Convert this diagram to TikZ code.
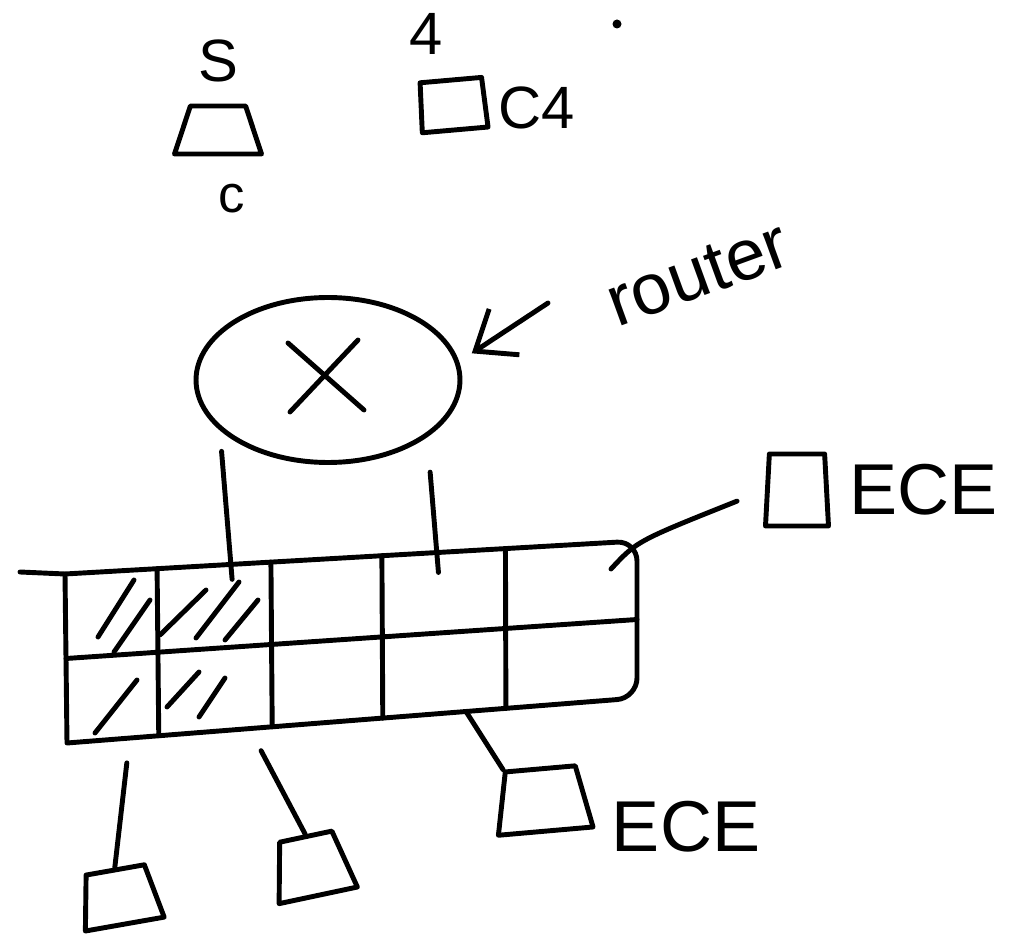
\documentclass[tikz,border=0pt]{standalone}
\usepackage{fontspec}
\setmainfont{Liberation Sans}
\usetikzlibrary{shapes,arrows.meta,positioning,calc}

\tikzset{
  pen/.style={line width=2.8pt,line cap=round,line join=round},
  dev/.style={pen,draw,trapezium,trapezium stretches=true,inner sep=1pt},
  lbl/.style={inner sep=0,font=\fontsize{34}{34}\selectfont},
  big/.style={inner sep=0,font=\fontsize{41}{41}\selectfont},
}

\begin{document}
\begin{tikzpicture}[x=0.02cm,y=-0.02cm]
\useasboundingbox (0,0) rectangle (1019,939);

% end devices
\node[dev,trapezium angle=74,minimum width=1.74cm,minimum height=0.96cm] (d0) at (218,130) {};
\node[dev,trapezium angle=88,minimum width=1.32cm,minimum height=1.0cm,rotate=5] (dc4) at (453,105) {};
\node[dev,trapezium angle=86,minimum width=1.26cm,minimum height=1.44cm] (dR) at (797,490) {};
\node[dev,trapezium angle=80,minimum width=1.6cm,minimum height=1.1cm,rotate=10] (d1) at (120,897) {};
\node[dev,trapezium angle=76,minimum width=1.6cm,minimum height=1.2cm,rotate=12] (d2) at (312,866) {};
\node[dev,trapezium angle=80,minimum width=1.9cm,minimum height=1.25cm,rotate=5] (d3) at (543,800) {};

\node[lbl,above=0.42cm of d0] (lS) {S};
\node[lbl,below=0.55cm of d0,xshift=0.28cm,font=\fontsize{30}{30}\selectfont] (lc) {c};
\node[lbl,above=0.45cm of dc4,xshift=-0.5cm] (l4) {4};
\node[lbl,right=0.22cm of dc4,yshift=-0.12cm] (lc4) {C4};
\node[big,right=0.4cm of dR] (lR) {ECE};
\node[big,right=0.5cm of d3,yshift=-0.62cm] (l3) {ECE};
\fill (617,24) circle (4.5);

% router
\node[pen,draw,ellipse,minimum width=5.28cm,minimum height=3.3cm] (rtr) at (328,380) {};
\draw[pen] ($(rtr.center)+(-40,-37)$) -- ($(rtr.center)+(36,30)$);
\draw[pen] ($(rtr.center)+(30,-40)$) -- ($(rtr.center)+(-38,32)$);
\node[big,rotate=20] (rlab) at (698,274) {router};
\coordinate (rtail) at (548,303);
\draw[pen,-{Straight Barb[length=0.7cm,width=1.1cm]},shorten >=0.3cm] (rtail) -- (rtr.8);

% ports
\coordinate (TL) at (65,574);
\coordinate (TR) at (637,541);
\coordinate (BR) at (637,698);
\coordinate (BL) at (67,743);
\draw[pen] (BL) -- (TL) [rounded corners=0.4cm] -- (TR) -- (BR) -- (BL);
\draw[pen] (TL) -- ++(-45,-2);
\draw[pen] ($(TL)!0.5!(BL)$) -- ($(TR)!0.5!(BR)$);
\foreach \f in {0.161,0.36,0.554,0.77}
  \draw[pen] ($(TL)!\f!(TR)$) -- ($(BL)!\f!(BR)$);
\foreach \a/\b/\c/\d in {134/580/98/637,150/600/114/652,206/590/160/635,239/582/196/638,
  258/600/225/640,137/680/95/733,199/672/167/707,225/678/199/717}
  \draw[pen] (\a,\b) -- (\c,\d);

% links
\draw[pen,shorten <=0.42cm,shorten >=-0.3cm] (rtr.205) -- ($(TL)!0.29!(TR)$);
\draw[pen,shorten <=0.7cm,shorten >=-0.4cm] (rtr.330) -- ($(TL)!0.65!(TR)$);
\coordinate (lk) at ($(TR)+(-26,28)$);
\draw[pen,shorten >=0.6cm] (lk) .. controls (TR) .. (dR.west);
\draw[pen,shorten <=0.5cm] ($(BL)!0.11!(BR)$) -- (d1.north);
\draw[pen,shorten <=0.5cm] ($(BL)!0.32!(BR)$) -- (d2.north);
\draw[pen] ($(BL)!0.70!(BR)$) -- (d3.top left corner);
\end{tikzpicture}
\end{document}
